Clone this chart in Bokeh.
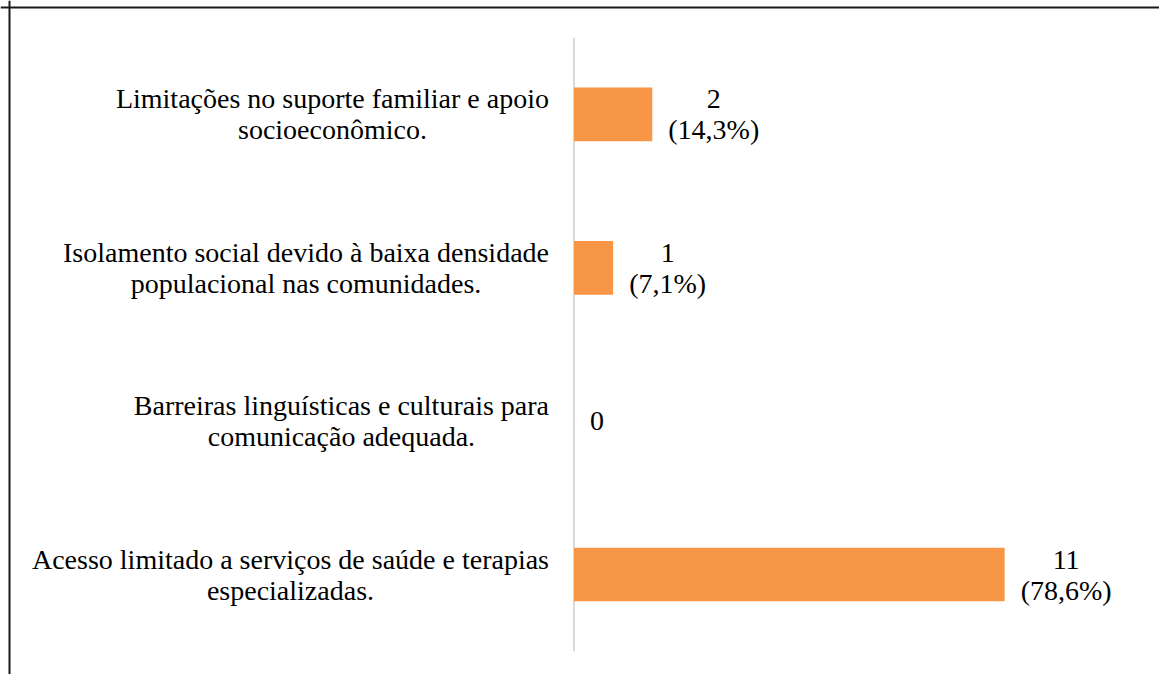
from bokeh.plotting import figure
from bokeh.models import Range1d, ColumnDataSource, Span
from bokeh.core.properties import value
from bokeh.embed import file_html
from bokeh.resources import INLINE

# ---- data (bottom to top) ----
categories = [
    "Acesso limitado a serviços de saúde e terapias\nespecializadas.",
    "Barreiras linguísticas e culturais para\ncomunicação adequada.",
    "Isolamento social devido à baixa densidade\npopulacional nas comunidades.",
    "Limitações no suporte familiar e apoio\nsocioeconômico.",
]
counts = [11, 0, 1, 2]
value_labels = ["11\n(78,6%)", "0", "1\n(7,1%)", "2\n(14,3%)"]

# ---- layout ----
W, H = 1159, 674
PX_X = 39.15      # pixels per count unit
PX_Y = 153.35     # pixels per category
X0_PIX = 573.5    # canvas x of the value axis
Y0_PIX = 574.0    # canvas y of the first category centre

x_start = -X0_PIX / PX_X
x_end = (W - X0_PIX) / PX_X
y_end = Y0_PIX / PX_Y
y_start = -(H - Y0_PIX) / PX_Y

src = ColumnDataSource(dict(
    y=list(range(len(categories))),
    cat=categories,
    count=counts,
    vlabel=value_labels,
))

p = figure(width=W, height=H, output_backend="svg", toolbar_location=None,
           x_range=Range1d(x_start, x_end), y_range=Range1d(y_start, y_end),
           x_axis_type=None, y_axis_type=None, min_border=0)
p.outline_line_color = None
p.background_fill_color = "white"
p.border_fill_color = "white"

# value axis line
p.segment(x0=0, y0=-0.5, x1=0, y1=len(categories) - 0.5,
          line_color="#d9d9d9", line_width=2)

p.hbar(y="y", left=0, right="count", height=0.35, source=src,
       fill_color="#F79646", line_color=None)

font = value("'Liberation Serif', 'Times New Roman', serif")
p.text(x=0, y="y", text="cat", source=src, x_offset=-25,
       anchor="center_right", text_align="center", text_baseline="middle",
       text_font=font, text_font_size="28px", text_line_height=1.0,
       text_color="black")

p.text(x="count", y="y", text="vlabel", source=src, x_offset=16,
       anchor="center_left", text_align="center", text_baseline="middle",
       text_font=font, text_font_size="28px", text_line_height=1.0,
       text_color="black")

# frame lines (top and left)
p.add_layout(Span(location=x_start + 9.0 / PX_X, dimension="height",
                  line_color="#1a1a1a", line_width=2))
p.add_layout(Span(location=y_end - 7.0 / PX_Y, dimension="width",
                  line_color="#1a1a1a", line_width=2))

open("out.html", "w").write(file_html(p, INLINE))
